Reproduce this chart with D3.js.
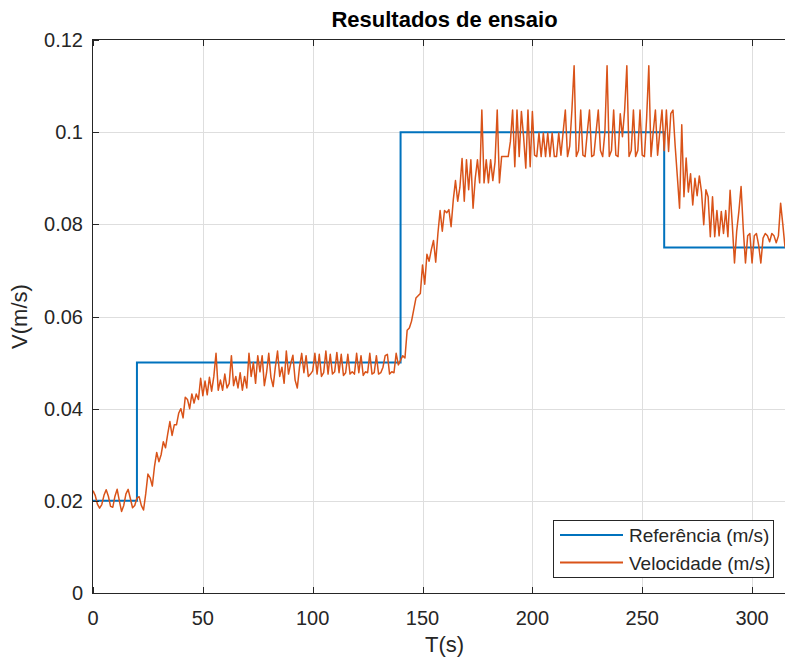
<!DOCTYPE html>
<html>
<head>
<meta charset="utf-8">
<script src="https://cdn.jsdelivr.net/npm/d3@7"></script>
<style>
  html, body { margin: 0; padding: 0; background: #fff; }
  svg { display: block; font-family: "Liberation Sans", Arial, Helvetica, sans-serif; }
</style>
</head>
<body>
<svg id="chart" width="785" height="664"></svg>
<script>
// Test run: reference speed steps and measured speed (sampled every 1 s)
const title = "Resultados de ensaio";
const xLabel = "T(s)";
const yLabel = "V(m/s)";
const seriesNames = ["Referência (m/s)", "Velocidade (m/s)"];
const xTicks = [0, 50, 100, 150, 200, 250, 300];
const yTicks = [0, 0.02, 0.04, 0.06, 0.08, 0.1, 0.12];
const yTickLabels = ["0", "0.02", "0.04", "0.06", "0.08", "0.1", "0.12"];

// Reference set-point: time at which each level starts, and the level
const refStartTimes = [0, 20, 140, 260];
const refLevels = [0.02, 0.05, 0.1, 0.075];
const refEndTime = 320;

// Measured speed, one sample per second starting at t = 0 s
const sampleStep = 1;
const speed = [
  0.0222, 0.0212, 0.0193, 0.0184, 0.0192, 0.0212, 0.0224, 0.0210, 0.0188, 0.0186,
  0.0210, 0.0225, 0.0200, 0.0177, 0.0190, 0.0215, 0.0225, 0.0205, 0.0185, 0.0190,
  0.0206, 0.0209, 0.0190, 0.0180, 0.0215, 0.0258, 0.0250, 0.0232, 0.0275, 0.0305,
  0.0285, 0.0300, 0.0328, 0.0315, 0.0345, 0.0372, 0.0342, 0.0365, 0.0365, 0.0390,
  0.0400, 0.0380, 0.0425, 0.0420, 0.0400, 0.0432, 0.0412, 0.0432, 0.0420, 0.0466,
  0.0428, 0.0460, 0.0430, 0.0468, 0.0438, 0.0470, 0.0520, 0.0440, 0.0462, 0.0440,
  0.0475, 0.0445, 0.0455, 0.0515, 0.0450, 0.0470, 0.0445, 0.0478, 0.0440, 0.0470,
  0.0445, 0.0520, 0.0470, 0.0500, 0.0455, 0.0515, 0.0480, 0.0515, 0.0450, 0.0478,
  0.0520, 0.0468, 0.0448, 0.0490, 0.0525, 0.0470, 0.0490, 0.0455, 0.0525, 0.0475,
  0.0498, 0.0516, 0.0462, 0.0445, 0.0490, 0.0520, 0.0478, 0.0515, 0.0470, 0.0475,
  0.0482, 0.0520, 0.0475, 0.0518, 0.0470, 0.0478, 0.0525, 0.0475, 0.0518, 0.0475,
  0.0480, 0.0522, 0.0478, 0.0518, 0.0472, 0.0478, 0.0518, 0.0475, 0.0480, 0.0475,
  0.0520, 0.0478, 0.0515, 0.0472, 0.0480, 0.0478, 0.0520, 0.0475, 0.0478, 0.0515,
  0.0475, 0.0478, 0.0490, 0.0515, 0.0518, 0.0475, 0.0480, 0.0478, 0.0520, 0.0495,
  0.0505, 0.0515, 0.0510, 0.0570, 0.0575, 0.0590, 0.0615, 0.0640, 0.0645, 0.0650,
  0.0712, 0.0670, 0.0735, 0.0720, 0.0745, 0.0765, 0.0718, 0.0780, 0.0830, 0.0785,
  0.0830, 0.0825, 0.0832, 0.0795, 0.0853, 0.0895, 0.0850, 0.0880, 0.0943, 0.0850,
  0.0940, 0.0875, 0.0940, 0.0835, 0.0900, 0.0940, 0.0890, 0.1048, 0.0890, 0.0940,
  0.0890, 0.0940, 0.0895, 0.0935, 0.1048, 0.0890, 0.0947, 0.0947, 0.0947, 0.0947,
  0.0980, 0.1048, 0.0925, 0.1048, 0.0947, 0.1045, 0.0990, 0.0922, 0.1048, 0.0925,
  0.1045, 0.0950, 0.0947, 0.0998, 0.0947, 0.0998, 0.0947, 0.0998, 0.0947, 0.0998,
  0.0947, 0.0947, 0.0998, 0.0950, 0.1000, 0.1048, 0.0947, 0.0970, 0.1048, 0.1144,
  0.0947, 0.0960, 0.1048, 0.0950, 0.0947, 0.1000, 0.1048, 0.0947, 0.0950, 0.1000,
  0.1048, 0.0960, 0.0947, 0.1000, 0.1144, 0.0947, 0.0960, 0.1048, 0.0950, 0.0947,
  0.1040, 0.0990, 0.1048, 0.1144, 0.0947, 0.0960, 0.1048, 0.0947, 0.0960, 0.1048,
  0.0950, 0.0947, 0.1030, 0.1144, 0.0947, 0.1000, 0.1048, 0.0950, 0.1000, 0.1048,
  0.0960, 0.1048, 0.0958, 0.1040, 0.1048, 0.0970, 0.0903, 0.0835, 0.1016, 0.0860,
  0.0944, 0.0870, 0.0910, 0.0842, 0.0900, 0.0862, 0.0905, 0.0870, 0.0799, 0.0875,
  0.0860, 0.0773, 0.0860, 0.0773, 0.0830, 0.0775, 0.0828, 0.0780, 0.0830, 0.0773,
  0.0874, 0.0800, 0.0716, 0.0785, 0.0828, 0.0882, 0.0790, 0.0716, 0.0775, 0.0780,
  0.0716, 0.0775, 0.0780, 0.0755, 0.0716, 0.0770, 0.0780, 0.0775, 0.0762, 0.0780,
  0.0775, 0.0760, 0.0775, 0.0846, 0.0800, 0.0750
];

const colors = { ref: "#0072BD", speed: "#D95319", axis: "#262626", grid: "#dedede" };

const svg = d3.select("#chart");
const W = +svg.attr("width"), H = +svg.attr("height");
const plot = { left: 93, top: 40, right: 796, bottom: 593 };

const x = d3.scaleLinear().domain([0, 320]).range([plot.left, plot.right]);
const y = d3.scaleLinear().domain([0, 0.12]).range([plot.bottom, plot.top]);

svg.append("rect").attr("width", W).attr("height", H).attr("fill", "#fff");

svg.append("clipPath").attr("id", "plotClip")
  .append("rect")
  .attr("x", plot.left).attr("y", plot.top)
  .attr("width", plot.right - plot.left).attr("height", plot.bottom - plot.top);

// Grid
const grid = svg.append("g").attr("stroke", colors.grid).attr("stroke-width", 1);
grid.selectAll("line.gx").data(xTicks.slice(1)).join("line")
  .attr("x1", d => Math.round(x(d)) + 0.5).attr("x2", d => Math.round(x(d)) + 0.5)
  .attr("y1", plot.top).attr("y2", plot.bottom);
grid.selectAll("line.gy").data(yTicks.slice(1, -1)).join("line")
  .attr("y1", d => Math.round(y(d)) + 0.5).attr("y2", d => Math.round(y(d)) + 0.5)
  .attr("x1", plot.left).attr("x2", plot.right);

// Data lines
const data = speed.map((v, i) => ({ t: i * sampleStep, v }));
const refData = refStartTimes.map((t, i) => ({ t, v: refLevels[i] }));
refData.push({ t: refEndTime, v: refLevels[refLevels.length - 1] });

const lines = svg.append("g").attr("clip-path", "url(#plotClip)").attr("fill", "none");
lines.append("path")
  .datum(refData)
  .attr("stroke", colors.ref).attr("stroke-width", 2)
  .attr("d", d3.line().x(d => x(d.t)).y(d => y(d.v)).curve(d3.curveStepAfter));
lines.append("path")
  .datum(data)
  .attr("stroke", colors.speed).attr("stroke-width", 1.5).attr("stroke-linejoin", "round")
  .attr("d", d3.line().x(d => x(d.t)).y(d => y(d.v)));

// Axes (box on, inward ticks)
const ax = svg.append("g").attr("stroke", colors.axis).attr("stroke-width", 1);
ax.append("line").attr("x1", plot.left).attr("x2", plot.right)
  .attr("y1", plot.bottom + 0.5).attr("y2", plot.bottom + 0.5);
ax.append("line").attr("x1", plot.left).attr("x2", plot.right)
  .attr("y1", plot.top - 0.5).attr("y2", plot.top - 0.5);
ax.append("line").attr("x1", plot.left - 0.5).attr("x2", plot.left - 0.5)
  .attr("y1", plot.top - 1).attr("y2", plot.bottom + 1);
const tickLen = 6;
xTicks.forEach(t => {
  const px = Math.round(x(t)) + 0.5;
  ax.append("line").attr("x1", px).attr("x2", px).attr("y1", plot.bottom).attr("y2", plot.bottom - tickLen);
  ax.append("line").attr("x1", px).attr("x2", px).attr("y1", plot.top).attr("y2", plot.top + tickLen);
});
yTicks.forEach(t => {
  const py = Math.round(y(t)) + 0.5;
  ax.append("line").attr("x1", plot.left).attr("x2", plot.left + tickLen).attr("y1", py).attr("y2", py);
});

// Tick labels
const tl = svg.append("g").attr("fill", colors.axis).attr("font-size", 20);
tl.selectAll("text.xt").data(xTicks).join("text")
  .attr("x", d => x(d)).attr("y", plot.bottom + 32)
  .attr("text-anchor", "middle").text(d => d);
tl.selectAll("text.yt").data(yTicks).join("text")
  .attr("x", plot.left - 10).attr("y", d => y(d) + 7)
  .attr("text-anchor", "end").text((d, i) => yTickLabels[i]);

// Labels and title
svg.append("text").attr("x", (plot.left + plot.right) / 2).attr("y", 652)
  .attr("text-anchor", "middle").attr("font-size", 22).attr("fill", colors.axis).text(xLabel);
svg.append("text")
  .attr("transform", `translate(27, ${(plot.top + plot.bottom) / 2}) rotate(-90)`)
  .attr("text-anchor", "middle").attr("font-size", 22).attr("fill", colors.axis).text(yLabel);
svg.append("text").attr("x", (plot.left + plot.right) / 2).attr("y", 27)
  .attr("text-anchor", "middle").attr("font-size", 22).attr("font-weight", "bold")
  .attr("fill", "#000").text(title);

// Legend
const lg = svg.append("g");
lg.append("rect").attr("x", 553.5).attr("y", 520.5).attr("width", 220).attr("height", 57)
  .attr("fill", "#fff").attr("stroke", colors.axis).attr("stroke-width", 1);
[colors.ref, colors.speed].forEach((c, i) => {
  const ly = 535 + i * 27.5;
  lg.append("line").attr("x1", 560).attr("x2", 623).attr("y1", ly).attr("y2", ly)
    .attr("stroke", c).attr("stroke-width", 2);
  lg.append("text").attr("x", 629).attr("y", ly + 7).attr("font-size", 19)
    .attr("fill", colors.axis).text(seriesNames[i]);
});
</script>
</body>
</html>
